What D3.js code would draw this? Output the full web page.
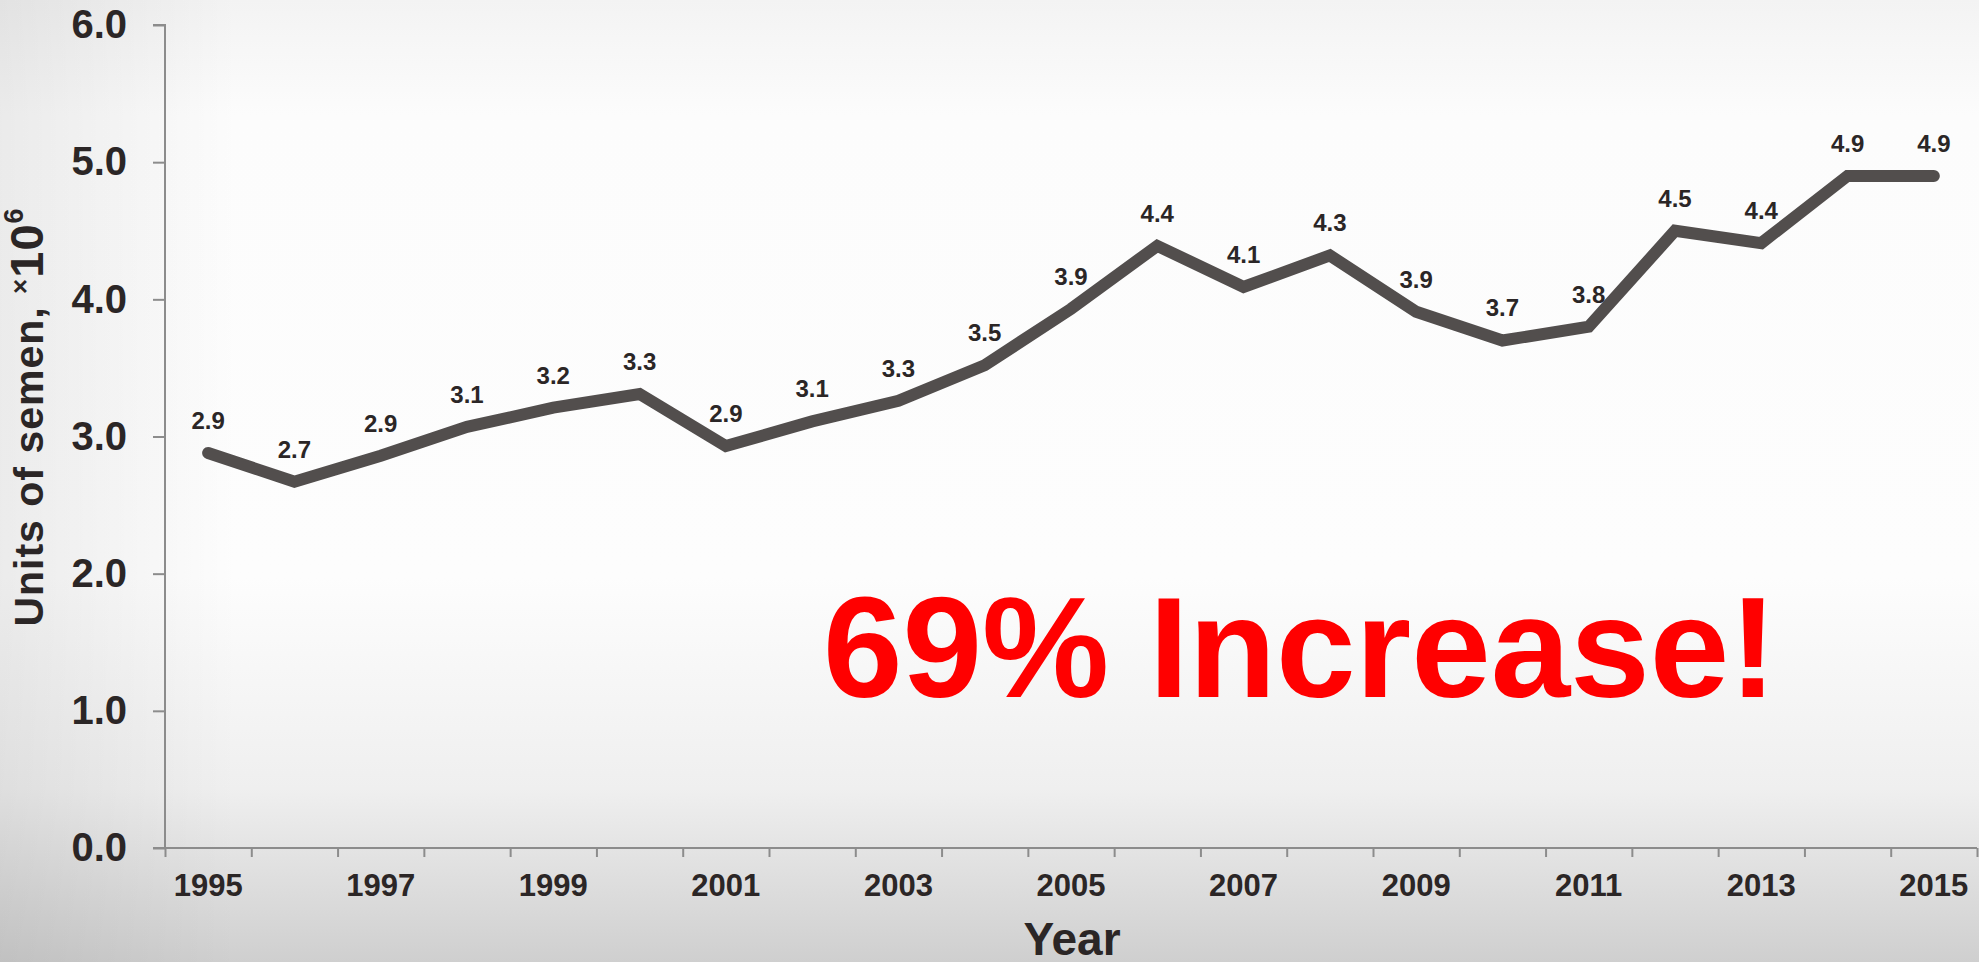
<!DOCTYPE html>
<html>
<head>
<meta charset="utf-8">
<script src="https://cdn.jsdelivr.net/npm/d3@7/dist/d3.min.js"></script>
<style>
  body { margin: 0; overflow: hidden; }
  text { font-family: "Liberation Sans", Arial, sans-serif; font-weight: bold; }
</style>
</head>
<body>
<div id="chart"></div>
<script>
// data
const years = d3.range(1995, 2016).map(String);
const units = [2.88, 2.67, 2.86, 3.07, 3.21, 3.31, 2.93, 3.11, 3.26, 3.52, 3.93,
               4.39, 4.09, 4.32, 3.91, 3.70, 3.80, 4.50, 4.41, 4.90, 4.90];
const yTicks = [0, 1, 2, 3, 4, 5, 6];
const xLabelYears = years.filter((d, i) => i % 2 === 0);
const callout = "69% Increase!";

const W = 1979, H = 962;
const margin = { top: 25, right: 2, bottom: 114, left: 165 };

const svg = d3.select("#chart").append("svg")
  .attr("width", W)
  .attr("height", H);

// background wash
const defs = svg.append("defs");
const bg = defs.append("linearGradient").attr("id", "bg")
  .attr("x1", 0).attr("y1", 0).attr("x2", 0).attr("y2", 1);
[["0%", "#f3f3f3"], ["12%", "#fcfcfc"], ["60%", "#fdfdfd"], ["82%", "#efefef"], ["100%", "#cfcfcf"]]
  .forEach(s => bg.append("stop").attr("offset", s[0]).attr("stop-color", s[1]));
const side = defs.append("linearGradient").attr("id", "side")
  .attr("x1", 0).attr("y1", 0).attr("x2", 1).attr("y2", 0);
[["0%", "#000", 0.07], ["12%", "#000", 0], ["100%", "#000", 0]]
  .forEach(s => side.append("stop").attr("offset", s[0]).attr("stop-color", s[1]).attr("stop-opacity", s[2]));
svg.append("rect").attr("width", W).attr("height", H).attr("fill", "url(#bg)");
svg.append("rect").attr("width", W).attr("height", H).attr("fill", "url(#side)");

const x = d3.scaleBand()
  .domain(years)
  .range([margin.left, W - margin.right])
  .padding(0);

const xEdge = d3.scaleLinear()
  .domain([0, years.length])
  .range([margin.left, W - margin.right]);

const y = d3.scaleLinear()
  .domain([0, 6])
  .range([H - margin.bottom, margin.top]);

const axisColor = "#8c8c8c";
const textColor = "#2b2626";

// Y axis
const yAxis = svg.append("g")
  .attr("transform", "translate(" + margin.left + ",0)")
  .call(d3.axisLeft(y).tickValues(yTicks).tickFormat(d3.format(".1f")).tickSize(12).tickPadding(26));
yAxis.select(".domain").attr("stroke", axisColor).attr("stroke-width", 2).attr("d",
  "M-12," + y(6) + "H0V" + y(0));
yAxis.selectAll(".tick line").attr("stroke", axisColor).attr("stroke-width", 2);
yAxis.selectAll(".tick text")
  .attr("fill", textColor)
  .style("font-size", "40px");

// X axis: boundary ticks
const xAxis = svg.append("g")
  .attr("transform", "translate(0," + y(0) + ")")
  .call(d3.axisBottom(xEdge).tickValues(d3.range(0, years.length + 1)).tickFormat("").tickSize(9));
xAxis.select(".domain").attr("stroke", axisColor).attr("stroke-width", 2).attr("d",
  "M" + (margin.left - 12) + ",0H" + (W - margin.right));
xAxis.selectAll(".tick line").attr("stroke", axisColor).attr("stroke-width", 2);

// X axis: year labels at band centres
const xLabels = svg.append("g")
  .attr("transform", "translate(0," + y(0) + ")")
  .call(d3.axisBottom(x).tickValues(xLabelYears).tickSize(0).tickPadding(26));
xLabels.select(".domain").remove();
xLabels.selectAll(".tick text")
  .attr("fill", textColor)
  .style("font-size", "31px");

// axis titles
svg.append("text")
  .attr("x", 1072)
  .attr("y", 955)
  .attr("text-anchor", "middle")
  .attr("fill", textColor)
  .style("font-size", "46px")
  .text("Year");

const yTitle = svg.append("text")
  .attr("transform", "translate(43,417) rotate(-90)")
  .attr("text-anchor", "middle")
  .attr("fill", textColor)
  .style("font-size", "41px")
  .style("letter-spacing", "1px");
yTitle.append("tspan").text("Units of semen, ");
yTitle.append("tspan").attr("dy", -14).style("font-size", "26px").text("×");
yTitle.append("tspan").attr("dy", 14).style("font-size", "47px").text("10");
yTitle.append("tspan").attr("dy", -20).style("font-size", "27px").text("6");

// the line
const line = d3.line()
  .x((d, i) => x(years[i]) + x.bandwidth() / 2)
  .y(d => y(d));

svg.append("path")
  .datum(units)
  .attr("fill", "none")
  .attr("stroke", "#524e4d")
  .attr("stroke-width", 12)
  .attr("stroke-linejoin", "miter")
  .attr("stroke-linecap", "round")
  .attr("d", line);

// value labels
svg.append("g")
  .selectAll("text")
  .data(units)
  .enter()
  .append("text")
  .attr("x", (d, i) => x(years[i]) + x.bandwidth() / 2)
  .attr("y", d => y(d) - 24)
  .attr("text-anchor", "middle")
  .attr("fill", textColor)
  .style("font-size", "24px")
  .text(d => d3.format(".1f")(d));

// red callout
svg.append("text")
  .attr("x", 1300)
  .attr("y", 697)
  .attr("text-anchor", "middle")
  .attr("fill", "#ff0000")
  .style("font-size", "143px")
  .text(callout);
</script>
</body>
</html>
